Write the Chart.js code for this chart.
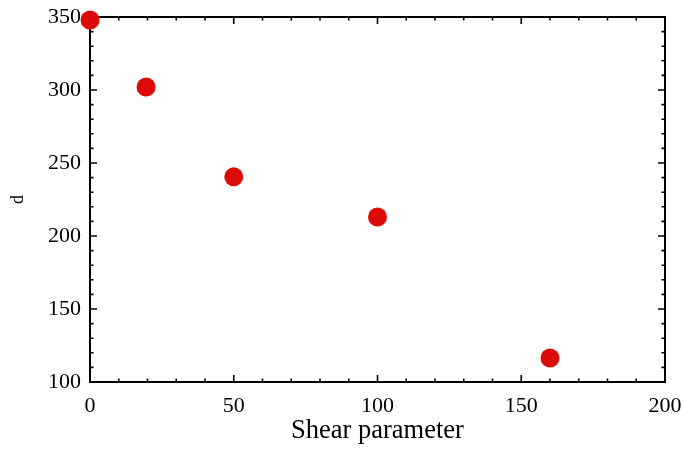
<!DOCTYPE html>
<html>
<head>
<meta charset="utf-8">
<script src="https://cdn.jsdelivr.net/npm/chart.js@4"></script>
<style>
  html, body { margin: 0; padding: 0; background: #fff; }
  #wrap { width: 681px; height: 449px; }
</style>
</head>
<body>
<div id="wrap"><canvas id="chart"></canvas></div>
<script>
// données
const shearValues = [0, 19.5, 50, 100, 160];
const dValues = [348, 302, 240.5, 213, 116.5];
const xTicks = [0, 50, 100, 150, 200];
const yTicks = [100, 150, 200, 250, 300, 350];

const serif = '"Liberation Serif", "DejaVu Serif", serif';

// cadre + graduations vers l'intérieur sur les 4 côtés
const frameTicks = {
  id: 'frameTicks',
  beforeDatasetsDraw(chart) {
    const { ctx, chartArea: a, scales } = chart;
    const x = scales.x, y = scales.y;
    ctx.save();
    ctx.strokeStyle = '#000';
    ctx.lineWidth = 2;
    ctx.strokeRect(a.left, a.top, a.right - a.left, a.bottom - a.top);
    ctx.lineWidth = 1.6;
    ctx.beginPath();
    for (let v = x.min; v <= x.max; v += 10) {
      const px = x.getPixelForValue(v);
      const len = v % 50 === 0 ? 7 : 3.5;
      ctx.moveTo(px, a.bottom); ctx.lineTo(px, a.bottom - len);
      ctx.moveTo(px, a.top); ctx.lineTo(px, a.top + len);
    }
    for (let v = y.min; v <= y.max; v += 10) {
      const py = y.getPixelForValue(v);
      const len = v % 50 === 0 ? 7 : 3.5;
      ctx.moveTo(a.left, py); ctx.lineTo(a.left + len, py);
      ctx.moveTo(a.right, py); ctx.lineTo(a.right - len, py);
    }
    ctx.stroke();
    ctx.restore();
  }
};

// pas de marge auto pour les libellés qui débordent
const noOverflow = s => {
  s.paddingLeft = 0; s.paddingRight = 0; s.paddingTop = 0; s.paddingBottom = 0;
};

new Chart(document.getElementById('chart'), {
  type: 'scatter',
  data: {
    datasets: [{
      data: shearValues.map((s, i) => ({ x: s, y: dValues[i] })),
      backgroundColor: '#dd0a0a',
      borderColor: '#dd0a0a',
      pointRadius: 9.5,
      borderWidth: 0,
      clip: false
    }]
  },
  options: {
    responsive: true,
    maintainAspectRatio: false,
    animation: false,
    layout: { padding: { top: 17, right: 16, left: 0, bottom: 0 } },
    plugins: { legend: { display: false }, tooltip: { enabled: false } },
    scales: {
      x: {
        type: 'linear', min: 0, max: 200,
        afterFit: s => { s.height = 67; noOverflow(s); },
        afterBuildTicks: s => { s.ticks = xTicks.map(v => ({ value: v })); },
        grid: { display: false, drawTicks: false },
        border: { display: false },
        ticks: { color: '#000', font: { family: serif, size: 22 }, padding: 11, maxRotation: 0 },
        title: { display: true, text: 'Shear parameter', color: '#000',
                 font: { family: serif, size: 26.5 }, padding: { top: 0, bottom: 2 } }
      },
      y: {
        type: 'linear', min: 100, max: 350,
        afterFit: s => { s.width = 90; noOverflow(s); },
        afterBuildTicks: s => { s.ticks = yTicks.map(v => ({ value: v })); },
        grid: { display: false, drawTicks: false },
        border: { display: false },
        ticks: { color: '#000', font: { family: serif, size: 22 }, padding: 9 },
        title: { display: true, text: 'd', color: '#000',
                 font: { family: serif, size: 18 }, padding: { top: 7, bottom: 0 } }
      }
    }
  },
  plugins: [frameTicks]
});
</script>
</body>
</html>
